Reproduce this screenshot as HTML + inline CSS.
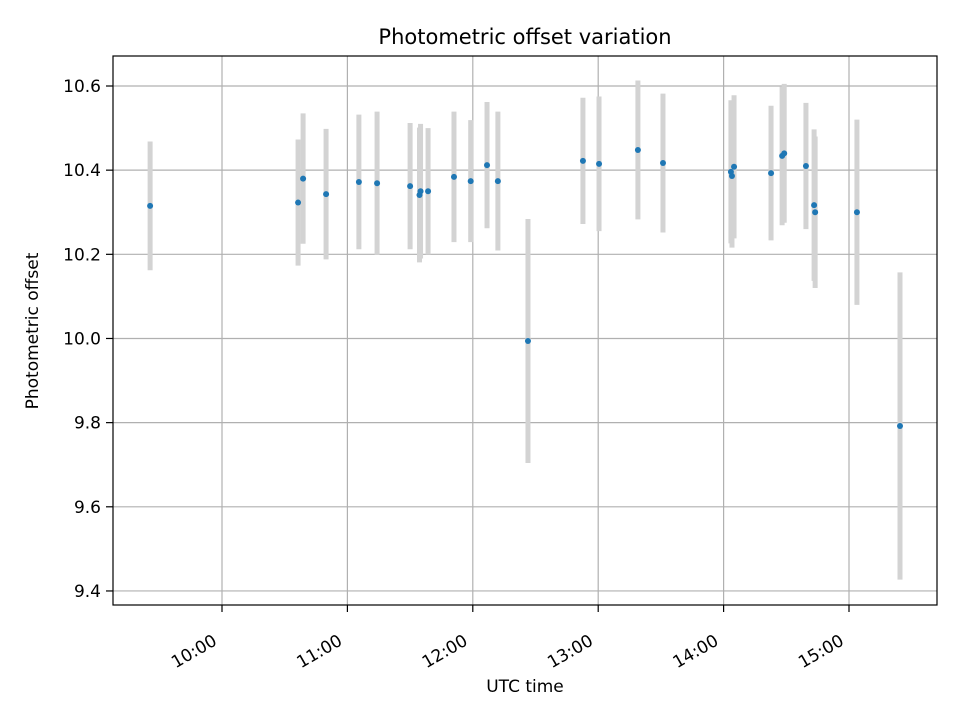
<!DOCTYPE html>
<html><head><meta charset="utf-8"><style>
body{margin:0;background:#fff;font-family:"DejaVu Sans","Liberation Sans",sans-serif}
text{font-family:"DejaVu Sans","Liberation Sans",sans-serif}
</style></head><body>
<svg id="chart" width="960" height="720" xmlns="http://www.w3.org/2000/svg">
<text x="525" y="44" font-size="21" text-anchor="middle">Photometric offset variation</text>
<text x="525" y="692" font-size="17" text-anchor="middle">UTC time</text>
<text x="38" y="331" font-size="17" text-anchor="middle" transform="rotate(-90 38 331)">Photometric offset</text>
<g id="grid"></g><g id="bars"></g><g id="pts"></g><g id="axes"></g>
<rect x="113" y="56" width="824" height="549" fill="none" stroke="#000" stroke-width="1.2"/>
</svg>
<script>
const times=[565.6,636.4,638.8,649.8,665.5,674.2,690,694.5,695,698.6,711,719,726.8,732,746.4,772.7,780.4,799,811,843.5,844,845,862.7,868,869,879.4,883.3,883.8,903.8,924.4];
const offsets=[10.315,10.323,10.38,10.343,10.372,10.369,10.362,10.341,10.35,10.35,10.384,10.374,10.412,10.374,9.994,10.422,10.415,10.448,10.417,10.396,10.386,10.408,10.393,10.434,10.44,10.41,10.317,10.30,10.30,9.792];
const errors=[0.153,0.15,0.155,0.155,0.16,0.17,0.15,0.16,0.16,0.15,0.155,0.145,0.15,0.165,0.29,0.15,0.16,0.165,0.165,0.17,0.17,0.17,0.16,0.165,0.165,0.15,0.18,0.18,0.22,0.365];
const yTicks=[9.4,9.6,9.8,10.0,10.2,10.4,10.6];
const xTicks=[600,660,720,780,840,900];
const xTickLabels=["10:00","11:00","12:00","13:00","14:00","15:00"];
const NS="http://www.w3.org/2000/svg";
function X(m){return 222+(m-600)*125.4/60;}
function Y(v){return 86+(10.6-v)*420.8;}
function mk(tag,attrs,parent){const e=document.createElementNS(NS,tag);for(const k in attrs)e.setAttribute(k,attrs[k]);document.getElementById(parent).appendChild(e);return e;}
yTicks.forEach(t=>{
 const y=Y(t);
 const g=mk('line',{x1:113,x2:937,y1:y,y2:y,stroke:'#b0b0b0','stroke-width':1.2},'grid');
 
 
 const tk=mk('line',{x1:106,x2:113,y1:y,y2:y,stroke:'#000','stroke-width':1.2},'axes');
 
 
 const l=mk('text',{x:101,y:y+6,'font-size':17,'text-anchor':'end'},'axes');
 l.textContent=t.toFixed(1);
 
 
});
xTicks.forEach((t,i)=>{
 const x=X(t);
 const g=mk('line',{x1:x,x2:x,y1:56,y2:605,stroke:'#b0b0b0','stroke-width':1.2},'grid');
 
 
 const tk=mk('line',{x1:x,x2:x,y1:605,y2:612,stroke:'#000','stroke-width':1.2},'axes');
 
 
 const ex=x-4, ey=644;
 const l=mk('text',{x:ex,y:ey,'font-size':17,'text-anchor':'end',transform:`rotate(-30 ${ex} ${ey})`},'axes');
 l.textContent=xTickLabels[i];
 
 
});
times.forEach((t,i)=>{
 const x=X(t);
 const b=mk('line',{x1:x,x2:x,y1:Y(offsets[i]+errors[i]),y2:Y(offsets[i]-errors[i]),stroke:'#d3d3d3','stroke-width':5},'bars');
 
 
 const c=mk('circle',{cx:x,cy:Y(offsets[i]),r:3,fill:'#1f77b4'},'pts');
 
 
});
</script>
</body></html>
